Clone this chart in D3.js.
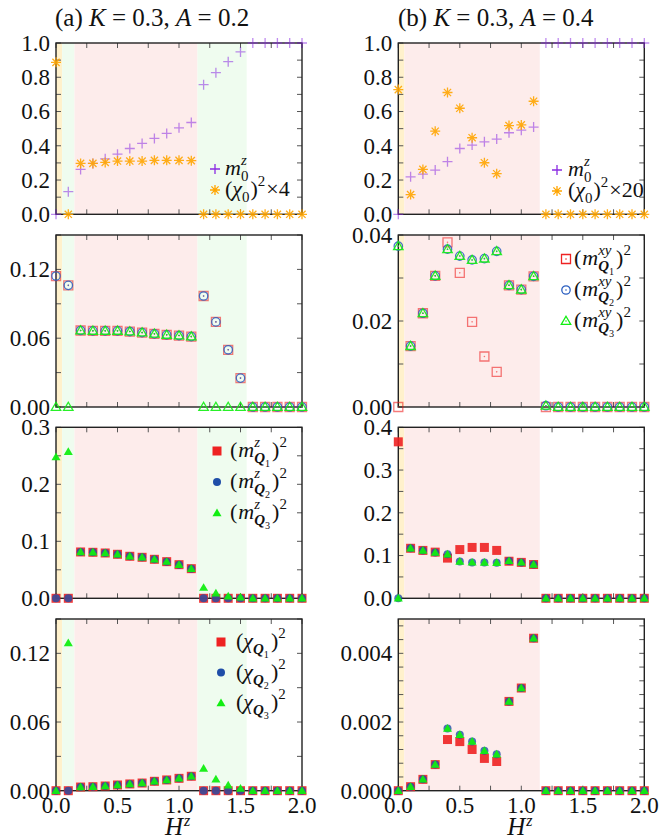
<!DOCTYPE html>
<html><head><meta charset="utf-8">
<script src="https://cdn.jsdelivr.net/npm/d3@7"></script>
</head><body style="margin:0">
<svg id="c" width="659" height="837"></svg>
<script>
// ---------- data ----------
const H = [0,0.1,0.2,0.3,0.4,0.5,0.6,0.7,0.8,0.9,1.0,1.1,1.2,1.3,1.4,1.5,1.6,1.7,1.8,1.9,2.0];

// (a) K=0.3, A=0.2
const m0z_a  = [0,0.132,0.262,0.297,0.324,0.351,0.384,0.414,0.443,0.472,0.505,0.536,0.757,0.827,0.891,0.948,1,1,1,1,1];
const chi0_a = [0.887,0,0.297,0.297,0.303,0.311,0.311,0.311,0.315,0.315,0.315,0.313,0,0,0,0,0,0,0,0,0];
const mxy1_a = [0.1142,0.1061,0.0667,0.0664,0.0664,0.0664,0.0658,0.0649,0.0638,0.0629,0.0623,0.0614,0.0968,0.0742,0.0499,0.0252,0,0,0,0,0];
const mxy2_a = [0.1142,0.1061,0.0667,0.0664,0.0664,0.0664,0.0658,0.0649,0.0638,0.0629,0.0623,0.0614,0.0968,0.0742,0.0499,0.0252,0,0,0,0,0];
const mxy3_a = [0,0,0.0667,0.0664,0.0664,0.0664,0.0658,0.0649,0.0638,0.0629,0.0623,0.0614,0,0,0,0,0,0,0,0,0];
const mz1_a  = [0,0,0.0813,0.0807,0.0795,0.0772,0.0737,0.0719,0.0684,0.0643,0.059,0.052,0,0,0,0,0,0,0,0,0];
const mz2_a  = [0,0,0.0813,0.0807,0.0795,0.0772,0.0737,0.0719,0.0684,0.0643,0.059,0.052,0,0,0,0,0,0,0,0,0];
const mz3_a  = [0.248,0.257,0.0813,0.0807,0.0795,0.0772,0.0737,0.0719,0.0684,0.0643,0.059,0.052,0.0187,0.0088,0.0035,0.0018,0,0,0,0,0];
const chq1_a = [0,0,0.0032,0.0035,0.0041,0.005,0.0059,0.0067,0.0082,0.0094,0.0108,0.0126,0,0,0,0,0,0,0,0,0];
const chq2_a = [0,0,0.0032,0.0035,0.0041,0.005,0.0059,0.0067,0.0082,0.0094,0.0108,0.0126,0,0,0,0,0,0,0,0,0];
const chq3_a = [0,0.129,0.0032,0.0035,0.0041,0.005,0.0059,0.0067,0.0082,0.0094,0.0108,0.0126,0.0193,0.01,0.0047,0.002,0,0,0,0,0];

// (b) K=0.3, A=0.4
const m0z_b  = [0,0.219,0.235,0.258,0.307,0.384,0.404,0.423,0.439,0.476,0.491,0.509,1,1,1,1,1,1,1,1,1];
const chi0_b = [0.728,0.115,0.262,0.485,0.711,0.619,0.447,0.301,0.237,0.518,0.522,0.66,0,0,0,0,0,0,0,0,0];
const mxy1_b = [0,0.01416,0.0218,0.0305,0.0383,0.0312,0.0198,0.01175,0.00817,0.0283,0.0273,0.0304,0,0,0,0,0,0,0,0,0];
const mxy2_b = [0.0374,0.01416,0.0218,0.0305,0.0367,0.0351,0.0342,0.0345,0.0362,0.0283,0.0273,0.0304,0.0003,0,0,0,0,0,0,0,0];
const mxy3_b = [0.0374,0.01416,0.0218,0.0305,0.0367,0.0351,0.0342,0.0345,0.0362,0.0283,0.0273,0.0304,0.0003,0,0,0,0,0,0,0,0];
const mz1_b  = [0.366,0.117,0.112,0.108,0.094,0.114,0.119,0.119,0.112,0.0867,0.084,0.079,0,0,0,0,0,0,0,0,0];
const mz2_b  = [0,0.117,0.112,0.107,0.103,0.086,0.084,0.0836,0.083,0.0875,0.084,0.079,0,0,0,0,0,0,0,0,0];
const mz3_b  = [0,0.117,0.112,0.107,0.103,0.086,0.084,0.0836,0.083,0.0875,0.084,0.079,0,0,0,0,0,0,0,0,0];
const chq1_b = [0,0.000117,0.00033,0.00076,0.00149,0.00143,0.0012,0.00094,0.00085,0.0026,0.00299,0.00444,0,0,0,0,0,0,0,0,0];
const chq2_b = [0,0.000117,0.00033,0.00076,0.00181,0.00163,0.00143,0.00116,0.00106,0.0026,0.00299,0.00444,0,0,0,0,0,0,0,0,0];
const chq3_b = [0,0.000117,0.00033,0.00076,0.00181,0.00163,0.00143,0.00116,0.00106,0.0026,0.00299,0.00444,0,0,0,0,0,0,0,0,0];

// phase regions [start,end,kind]
const bands_a = [[0,0.05,"y"],[0.05,0.15,"g"],[0.15,1.15,"p"],[1.15,1.55,"g"]];
const bands_b = [[0,0.05,"y"],[0.05,1.15,"p"]];

// axis tick settings per row
const xTickLabels = ["0.0","0.5","1.0","1.5","2.0"];
const yA = [{dom:[0,1],lab:[0,0.2,0.4,0.6,0.8,1.0],fmt:".1f",minor:0.1},
            {dom:[0,0.15],lab:[0,0.06,0.12],fmt:".2f",minor:0.03},
            {dom:[0,0.3],lab:[0,0.1,0.2,0.3],fmt:".1f",minor:0.05},
            {dom:[0,0.15],lab:[0,0.06,0.12],fmt:".2f",minor:0.03}];
const yB = [{dom:[0,1],lab:[0,0.2,0.4,0.6,0.8,1.0],fmt:".1f",minor:0.1},
            {dom:[0,0.04],lab:[0,0.02,0.04],fmt:".2f",minor:0.01},
            {dom:[0,0.4],lab:[0,0.1,0.2,0.3,0.4],fmt:".1f",minor:0.05},
            {dom:[0,0.005],lab:[0,0.002,0.004],fmt:".3f",minor:0.0004}];

// ---------- layout ----------
const svg = d3.select("#c");
const colX = [[56,302],[398.3,644.3]];
const rowY = [[43,214.3],[235,407],[427.3,598.3],[619,790.7]];
const bandCol = {y:"#fff1cc",g:"#effcef",p:"#fdeceb"};
const C = {pur:"#8a2be2",org:"#ffa500",red:"#ee2222",blu:"#1f4ea8",grn:"#11ee11"};

function txt(g, x, y, s, fs){
  return g.append("text").style("font-family",`"Liberation Serif"`).attr("font-size",fs)
    .attr("x",x).attr("y",y).attr("fill","#111").style("white-space","pre").text(s);
}

function markerPath(type, s){
  if(type==="plus") return `M${-s},0H${s}M0,${-s}V${s}`;
  if(type==="star"){const d=s*0.72;return `M${-s},0H${s}M0,${-s}V${s}M${-d},${-d}L${d},${d}M${-d},${d}L${d},${-d}`;}
  if(type==="sq") return `M${-s},${-s}H${s}V${s}H${-s}Z`;
  if(type==="tri") return `M0,${-s*1.05}L${s*1.05},${s*0.75}L${-s*1.05},${s*0.75}Z`;
  if(type==="circ") return d3.arc()({innerRadius:0,outerRadius:s,startAngle:0,endAngle:2*Math.PI});
}
function drawMarker(g, type, color, open, x, y, size, alpha){
  const p = g.append("path").attr("transform",`translate(${x},${y})`).attr("d",markerPath(type,size));
  if(type==="plus"||type==="star"){
    p.attr("fill","none").attr("stroke",color).attr("stroke-width",1.3).attr("opacity",alpha);
  } else if(open){
    p.attr("fill","none").attr("stroke",color).attr("stroke-width",1.3).attr("opacity",alpha);
    g.append("circle").attr("cx",x).attr("cy",y).attr("r",0.8).attr("fill",color).attr("opacity",alpha);
  } else {
    p.attr("fill",color).attr("opacity",alpha);
  }
}

// rich text layout
function seq(g, x, y, items, fs){
  let cx = x;
  items.forEach(it=>{
    if(it.sup||it.sub){
      let e1=cx,e2=cx;
      if(it.sup) e1 = seq(g, cx, y-fs*0.45, it.sup, fs*0.68);
      if(it.sub) e2 = seq(g, cx, y+fs*0.28, it.sub, fs*0.68);
      cx = Math.max(e1,e2)+1;
    } else {
      const t = txt(g, cx, y, it.t, fs);
      if(it.i) t.attr("font-style","italic");
      if(it.b) t.attr("font-weight","bold");
      cx += t.node().getComputedTextLength() + (it.gap||0);
    }
  });
  return cx;
}

function panel(ci, ri, cfg, bands, series, legend){
  const [x0,x1] = colX[ci], [yt,yb] = rowY[ri];
  const x = d3.scaleLinear().domain([0,2]).range([x0,x1]);
  const y = d3.scaleLinear().domain(cfg.dom).range([yb,yt]);
  const g = svg.append("g");
  bands.forEach(b=>{
    g.append("rect").attr("x",x(b[0])).attr("y",yt).attr("width",x(b[1])-x(b[0])).attr("height",yb-yt).attr("fill",bandCol[b[2]]);
  });
  // ticks
  const tk = g.append("g").attr("stroke","#555").attr("stroke-width",1);
  const xt = d3.range(0,2.0001,0.25);
  xt.forEach(v=>{
    tk.append("line").attr("x1",x(v)).attr("x2",x(v)).attr("y1",yb).attr("y2",yb-5);
    tk.append("line").attr("x1",x(v)).attr("x2",x(v)).attr("y1",yt).attr("y2",yt+5);
  });
  const nMin = Math.floor(cfg.dom[1]/cfg.minor+1e-6);
  for(let k=0;k<=nMin;k++){
    const v = k*cfg.minor;
    tk.append("line").attr("x1",x0).attr("x2",x0+5).attr("y1",y(v)).attr("y2",y(v));
    tk.append("line").attr("x1",x1).attr("x2",x1-5).attr("y1",y(v)).attr("y2",y(v));
  }
  // y labels
  const fmt = d3.format(cfg.fmt);
  cfg.lab.forEach(v=>{
    txt(g, x0-6, y(v), fmt(v), 23).attr("dy","0.34em").attr("text-anchor","end");
  });
  if(ri===3){
    xTickLabels.forEach((s,i)=>{
      txt(g, x(i*0.5), 813, s, 23).attr("text-anchor","middle");
    });
    const hx = x(1.0);
    txt(g, hx-5, 835, "H", 25).attr("text-anchor","middle").attr("font-style","italic");
    txt(g, hx+5, 826, "z", 16).attr("font-style","italic");
  }
  // frame
  g.append("rect").attr("x",x0).attr("y",yt).attr("width",x1-x0).attr("height",yb-yt)
    .attr("fill","none").attr("stroke","#222").attr("stroke-width",1.4);
  // data
  series.forEach(s=>{
    s.vals.forEach((v,i)=>drawMarker(g, s.type, s.color, s.open, x(H[i]), y(v), s.size, s.alpha));
  });
  // legend
  legend.items.forEach((it,k)=>{
    const my = legend.y + k*legend.dy;
    drawMarker(g, it.type, it.color, it.open, legend.x, my, it.size, 1);
    seq(g, legend.tx, my+6, it.text, legend.fs);
  });
}

// legend text pieces
const txtM0 = [{t:"m",i:true},{sup:[{t:"z",i:true}],sub:[{t:"0"}]}];
const txtChi = f=>[{t:"("},{t:"χ",i:true},{sub:[{t:"0"}]},{t:")"},{sup:[{t:"2"}]},{t:"×"+f}];
const qsub = n=>[{t:"Q",i:true,b:true},{sub:[{t:String(n)}]}];
const txtMxy = n=>[{t:"(",gap:1},{t:"m",i:true},{sup:[{t:"xy",i:true}],sub:qsub(n)},{t:")"},{sup:[{t:"2"}]}];
const txtMz = n=>[{t:"(",gap:1},{t:"m",i:true},{sup:[{t:"z",i:true}],sub:qsub(n)},{t:")"},{sup:[{t:"2"}]}];
const txtChq = n=>[{t:"("},{t:"χ",i:true},{sub:qsub(n)},{t:")"},{sup:[{t:"2"}]}];

// Row 1
panel(0,0,yA[0],bands_a,[
  {vals:m0z_a,type:"plus",color:C.pur,size:5,alpha:0.55},
  {vals:chi0_a,type:"star",color:C.org,size:5,alpha:0.9}],
  {x:215,y:169,dy:21,tx:225,fs:22,items:[
    {type:"plus",color:C.pur,size:5,text:txtM0},
    {type:"star",color:C.org,size:5,text:txtChi(4)}]});
panel(1,0,yB[0],bands_b,[
  {vals:m0z_b,type:"plus",color:C.pur,size:5,alpha:0.55},
  {vals:chi0_b,type:"star",color:C.org,size:5,alpha:0.9}],
  {x:557,y:170,dy:21,tx:568,fs:22,items:[
    {type:"plus",color:C.pur,size:5,text:txtM0},
    {type:"star",color:C.org,size:5,text:txtChi(20)}]});
// Row 2
panel(0,1,yA[1],bands_a,[
  {vals:mxy1_a,type:"sq",color:C.red,open:true,size:4.5,alpha:0.6},
  {vals:mxy2_a,type:"circ",color:"#2a5ec0",open:true,size:4.2,alpha:0.85},
  {vals:mxy3_a,type:"tri",color:C.grn,open:true,size:4.5,alpha:0.9}],
  {x:0,y:-100,dy:0,tx:0,fs:20,items:[]});
panel(1,1,yB[1],bands_b,[
  {vals:mxy1_b,type:"sq",color:C.red,open:true,size:4.5,alpha:0.6},
  {vals:mxy2_b,type:"circ",color:"#2a5ec0",open:true,size:4.2,alpha:0.85},
  {vals:mxy3_b,type:"tri",color:C.grn,open:true,size:4.5,alpha:0.9}],
  {x:566,y:259,dy:31,tx:574,fs:22,items:[
    {type:"sq",color:C.red,open:true,size:4.5,text:txtMxy(1)},
    {type:"circ",color:"#2a5ec0",open:true,size:4.2,text:txtMxy(2)},
    {type:"tri",color:C.grn,open:true,size:4.5,text:txtMxy(3)}]});
// Row 3
panel(0,2,yA[2],bands_a,[
  {vals:mz1_a,type:"sq",color:C.red,size:4.5,alpha:0.9},
  {vals:mz2_a,type:"circ",color:C.blu,size:4,alpha:0.8},
  {vals:mz3_a,type:"tri",color:C.grn,size:4.3,alpha:0.95}],
  {x:217,y:451,dy:31,tx:230,fs:22,items:[
    {type:"sq",color:C.red,size:4.5,text:txtMz(1)},
    {type:"circ",color:C.blu,size:4,text:txtMz(2)},
    {type:"tri",color:C.grn,size:4.3,text:txtMz(3)}]});
panel(1,2,yB[2],bands_b,[
  {vals:mz1_b,type:"sq",color:C.red,size:4.5,alpha:0.9},
  {vals:mz2_b,type:"circ",color:C.blu,size:4,alpha:0.8},
  {vals:mz3_b,type:"tri",color:C.grn,size:4.3,alpha:0.95}],
  {x:0,y:-100,dy:0,tx:0,fs:20,items:[]});
// Row 4
panel(0,3,yA[3],bands_a,[
  {vals:chq1_a,type:"sq",color:C.red,size:4.5,alpha:0.9},
  {vals:chq2_a,type:"circ",color:C.blu,size:4,alpha:0.8},
  {vals:chq3_a,type:"tri",color:C.grn,size:4.3,alpha:0.95}],
  {x:221,y:642,dy:30.5,tx:236,fs:22,items:[
    {type:"sq",color:C.red,size:4.5,text:txtChq(1)},
    {type:"circ",color:C.blu,size:4,text:txtChq(2)},
    {type:"tri",color:C.grn,size:4.3,text:txtChq(3)}]});
panel(1,3,yB[3],bands_b,[
  {vals:chq1_b,type:"sq",color:C.red,size:4.5,alpha:0.9},
  {vals:chq2_b,type:"circ",color:C.blu,size:4,alpha:0.8},
  {vals:chq3_b,type:"tri",color:C.grn,size:4.3,alpha:0.95}],
  {x:0,y:-100,dy:0,tx:0,fs:20,items:[]});

// titles
function title(x, lab, K, Aval){
  seq(svg, x, 26, [{t:lab+" "},{t:"K",i:true},{t:" = "+K+", "},{t:"A",i:true},{t:" = "+Aval}], 25);
}
title(55,"(a)","0.3","0.2");
title(398,"(b)","0.3","0.4");
</script></body></html>
